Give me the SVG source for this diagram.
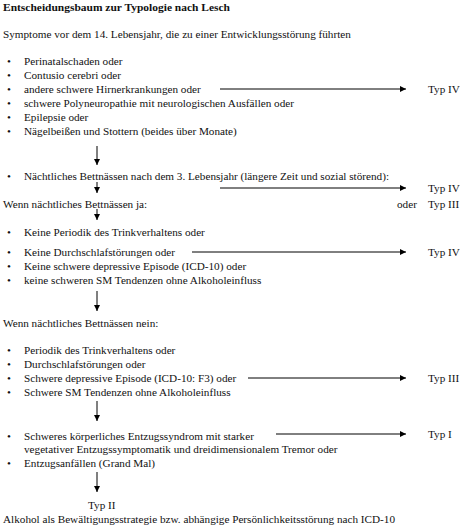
<svg xmlns="http://www.w3.org/2000/svg" width="460" height="526" viewBox="0 0 460 526">
<defs>
<marker id="ah" viewBox="0 0 10 10" refX="10" refY="5" markerWidth="7" markerHeight="6" markerUnits="userSpaceOnUse" orient="auto">
<path d="M0,0 L10,5 L0,10 z" fill="#000"/>
</marker>
<style>
text{font-family:"Liberation Serif","Times New Roman",serif;font-size:11.2px;fill:#111}
.b{font-weight:bold}
.c line{stroke:#000;stroke-width:1;marker-end:url(#ah)}
</style>
</defs>
<rect width="460" height="526" fill="#fff"/>
<g id="title"><text class="b" x="3" y="11" textLength="227" lengthAdjust="spacingAndGlyphs">Entscheidungsbaum zur Typologie nach Lesch</text></g>
<g id="n1">
<text x="3" y="38">Symptome vor dem 14. Lebensjahr, die zu einer Entwicklungsstörung führten</text>
<text x="7" y="65">•</text><text x="24" y="65">Perinatalschaden oder</text>
<text x="7" y="79">•</text><text x="24" y="79">Contusio cerebri oder</text>
<text x="7" y="93">•</text><text x="24" y="93">andere schwere Hirnerkrankungen oder</text>
<text x="7" y="107">•</text><text x="24" y="107">schwere Polyneuropathie mit neurologischen Ausfällen oder</text>
<text x="7" y="121">•</text><text x="24" y="121">Epilepsie oder</text>
<text x="7" y="135">•</text><text x="24" y="135">Nägelbeißen und Stottern (beides über Monate)</text>
</g>
<g id="n2">
<text x="7" y="180">•</text><text x="24" y="180">Nächtliches Bettnässen nach dem 3. Lebensjahr (längere Zeit und sozial störend):</text>
</g>
<g id="n3"><text x="3" y="208">Wenn nächtliches Bettnässen ja:</text></g>
<g id="n4">
<text x="7" y="236">•</text><text x="24" y="236">Keine Periodik des Trinkverhaltens oder</text>
<text x="7" y="256">•</text><text x="24" y="256">Keine Durchschlafstörungen oder</text>
<text x="7" y="270">•</text><text x="24" y="270">Keine schwere depressive Episode (ICD-10) oder</text>
<text x="7" y="284">•</text><text x="24" y="284">keine schweren SM Tendenzen ohne Alkoholeinfluss</text>
</g>
<g id="n5"><text x="3" y="327">Wenn nächtliches Bettnässen nein:</text></g>
<g id="n6">
<text x="7" y="354">•</text><text x="24" y="354">Periodik des Trinkverhaltens oder</text>
<text x="7" y="368">•</text><text x="24" y="368">Durchschlafstörungen oder</text>
<text x="7" y="382">•</text><text x="24" y="382">Schwere depressive Episode (ICD-10: F3) oder</text>
<text x="7" y="396">•</text><text x="24" y="396">Schwere SM Tendenzen ohne Alkoholeinfluss</text>
</g>
<g id="n7">
<text x="7" y="440">•</text><text x="24" y="440">Schweres körperliches Entzugssyndrom mit starker</text>
<text x="24" y="453">vegetativer Entzugssymptomatik und dreidimensionalem Tremor oder</text>
<text x="7" y="467">•</text><text x="24" y="467">Entzugsanfällen (Grand Mal)</text>
</g>
<g id="t1"><text x="428" y="93">Typ IV</text></g>
<g id="t2"><text x="428" y="192">Typ IV</text><text x="397" y="208">oder</text><text x="428" y="208">Typ III</text></g>
<g id="t3"><text x="428" y="256">Typ IV</text></g>
<g id="t4"><text x="428" y="382">Typ III</text></g>
<g id="t5"><text x="428" y="438">Typ I</text></g>
<g id="t6"><text x="88" y="509">Typ II</text></g>
<g id="foot"><text x="3" y="523">Alkohol als Bewältigungsstrategie bzw. abhängige Persönlichkeitsstörung nach ICD-10</text></g>
<g class="c" id="connectors">
<line x1="220" y1="89" x2="406" y2="89"/>
<line x1="220" y1="188" x2="406" y2="188"/>
<line x1="192" y1="252" x2="406" y2="252"/>
<line x1="248" y1="378" x2="406" y2="378"/>
<line x1="276" y1="434" x2="406" y2="434"/>
<line x1="97" y1="146" x2="97" y2="165"/>
<line x1="97" y1="182" x2="97" y2="193"/>
<line x1="97" y1="209" x2="97" y2="220"/>
<line x1="97" y1="291" x2="97" y2="311"/>
<line x1="97" y1="401" x2="97" y2="421"/>
<line x1="97" y1="472" x2="97" y2="492"/>
</g>
</svg>
